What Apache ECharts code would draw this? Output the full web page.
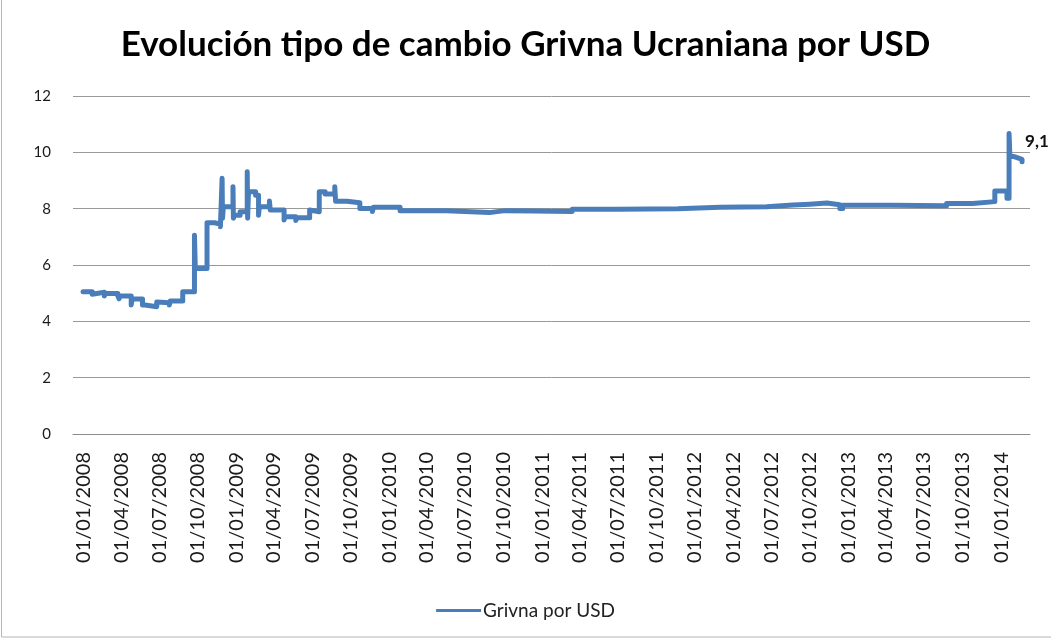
<!DOCTYPE html>
<html lang="es">
<head>
    <meta charset="UTF-8">
    <title>Evolución tipo de cambio Grivna Ucraniana por USD</title>
    <script src="https://cdn.jsdelivr.net/npm/echarts@6/dist/echarts.min.js"></script>
    <style>
        html, body { margin: 0; padding: 0; background: #fff; }
        #main { width: 1051px; height: 639px; }
    </style>
</head>
<body>
<div id="main"></div>
<script type="text/javascript">
    // fechas de cada cambio de nivel (el valor se mantiene hasta la siguiente fecha)
    var fechas = [
        '2008-01-01', '2008-01-23', '2008-01-25', '2008-02-21', '2008-02-23',
        '2008-03-24', '2008-03-27', '2008-03-29', '2008-04-25', '2008-04-27',
        '2008-05-22', '2008-05-28', '2008-06-25', '2008-06-29', '2008-07-25',
        '2008-07-27', '2008-08-26', '2008-09-23', '2008-09-25', '2008-10-23',
        '2008-11-10', '2008-11-24', '2008-11-28', '2008-11-29', '2008-12-01',
        '2008-12-24', '2008-12-25', '2008-12-27', '2009-01-10', '2009-01-27',
        '2009-01-28', '2009-01-30', '2009-02-16', '2009-02-23', '2009-02-25',
        '2009-03-21', '2009-03-23', '2009-04-25', '2009-04-27', '2009-05-23',
        '2009-05-25', '2009-06-25', '2009-06-27', '2009-07-18', '2009-08-01',
        '2009-08-24', '2009-08-26', '2009-09-22', '2009-10-23', '2009-11-22',
        '2009-11-24', '2010-01-27', '2010-03-10', '2010-03-12', '2010-05-17',
        '2010-08-28', '2010-10-05', '2010-10-07', '2010-12-10', '2011-03-14',
        '2011-07-04', '2011-11-21', '2012-03-01', '2012-06-20', '2012-08-22',
        '2012-10-01', '2012-11-11', '2012-12-12', '2012-12-19', '2013-04-16',
        '2013-08-24', '2013-10-25', '2013-12-17', '2014-01-15', '2014-01-20',
        '2014-01-22', '2014-02-01', '2014-02-10', '2014-02-20'
    ];
    var valores = [
        5.05, 4.96, 5.03, 4.90, 4.99,
        4.91, 4.80, 4.90, 4.58, 4.79,
        4.58, 4.52, 4.69, 4.66, 4.58,
        4.72, 5.05, 7.06, 5.88, 7.50,
        7.45, 7.36, 9.08, 7.66, 8.07,
        8.78, 7.66, 7.77, 7.89, 9.31,
        7.66, 8.60, 8.48, 7.77, 8.07,
        8.27, 7.95, 7.60, 7.71, 7.58,
        7.68, 7.95, 7.89, 8.60, 8.52,
        8.78, 8.26, 8.21, 8.01, 7.90,
        8.05, 7.93, 7.88, 7.93, 7.86,
        7.93, 7.88, 7.92, 7.90, 7.98,
        8.00, 8.05, 8.07, 8.13, 8.16,
        8.20, 8.14, 8.01, 8.12, 8.10,
        8.18, 8.25, 8.63, 8.37, 10.67,
        9.85, 9.80, 9.75, 9.67
    ];
    var etiquetasX = [
        '01/01/2008', '01/04/2008', '01/07/2008', '01/10/2008',
        '01/01/2009', '01/04/2009', '01/07/2009', '01/10/2009',
        '01/01/2010', '01/04/2010', '01/07/2010', '01/10/2010',
        '01/01/2011', '01/04/2011', '01/07/2011', '01/10/2011',
        '01/01/2012', '01/04/2012', '01/07/2012', '01/10/2012',
        '01/01/2013', '01/04/2013', '01/07/2013', '01/10/2013',
        '01/01/2014'
    ];
    var etiquetaFinal = '9,1';
    var inicioEje = '2007-12-08';
    var finEje = '2014-03-11';

    // dias desde 01/01/2008
    function dia(s) {
        var p = s.split('-');
        return (Date.UTC(+p[0], p[1] - 1, +p[2]) - Date.UTC(2008, 0, 1)) / 86400000;
    }
    function diaEtiqueta(s) {
        var p = s.split('/');
        return dia(p[2] + '-' + p[1] + '-' + p[0]);
    }

    var puntos = [];
    for (var i = 0; i < fechas.length; i++) {
        puntos.push([dia(fechas[i]), valores[i]]);
    }
    var ticksX = [];
    var textoTick = {};
    for (var j = 0; j < etiquetasX.length; j++) {
        var d = diaEtiqueta(etiquetasX[j]);
        ticksX.push(d);
        textoTick[d] = etiquetasX[j];
    }

    var myChart = echarts.init(document.getElementById('main'));

    myChart.setOption({
        animation: false,
        title: {
            text: 'Evolución tipo de cambio Grivna Ucraniana por USD',
            left: 'center',
            top: 22,
            textStyle: {
                fontFamily: 'Lato',
                fontWeight: 'bold',
                fontSize: 35,
                color: '#000'
            }
        },
        legend: {
            data: ['Grivna por USD'],
            left: 'center',
            top: 596,
            icon: 'rect',
            itemWidth: 45,
            itemHeight: 3,
            itemGap: 2,
            textStyle: {
                fontFamily: 'Lato',
                fontSize: 19,
                color: '#222',
                padding: [0, 0, 0, -3]
            }
        },
        grid: {
            left: 73,
            right: 21,
            top: 96,
            bottom: 205
        },
        xAxis: {
            type: 'value',
            min: dia(inicioEje),
            max: dia(finEje),
            splitLine: { show: false },
            axisTick: { show: false },
            axisLine: { lineStyle: { color: '#8c8c8c', width: 1 } },
            axisLabel: {
                customValues: ticksX,
                rotate: 90,
                margin: 18,
                fontFamily: 'Lato',
                fontSize: 20,
                color: '#1a1a1a',
                formatter: function (v) {
                    return textoTick[v] || '';
                }
            }
        },
        yAxis: {
            type: 'value',
            min: 0,
            max: 12,
            interval: 2,
            axisLine: { show: false },
            axisTick: { show: false },
            splitLine: { lineStyle: { color: '#9a9a9a', width: 1 } },
            axisLabel: {
                margin: 22,
                fontFamily: 'Lato',
                fontSize: 15,
                color: '#1a1a1a'
            }
        },
        graphic: [{
            type: 'rect',
            shape: { x: 1.5, y: -5, width: 1070, height: 642 },
            style: { fill: 'none', stroke: '#b4b4b4', lineWidth: 1 }
        }],
        series: [{
            name: 'Grivna por USD',
            type: 'line',
            step: 'end',
            showSymbol: false,
            symbol: 'none',
            data: puntos,
            itemStyle: { color: '#4a7ebb' },
            lineStyle: { color: '#4a7ebb', width: 5, join: 'round', cap: 'round' },
            endLabel: {
                show: true,
                formatter: etiquetaFinal,
                distance: 3,
                offset: [0, -20],
                fontFamily: 'Lato',
                fontWeight: 'bold',
                fontSize: 17,
                color: '#111'
            }
        }]
    });
</script>
</body>
</html>
